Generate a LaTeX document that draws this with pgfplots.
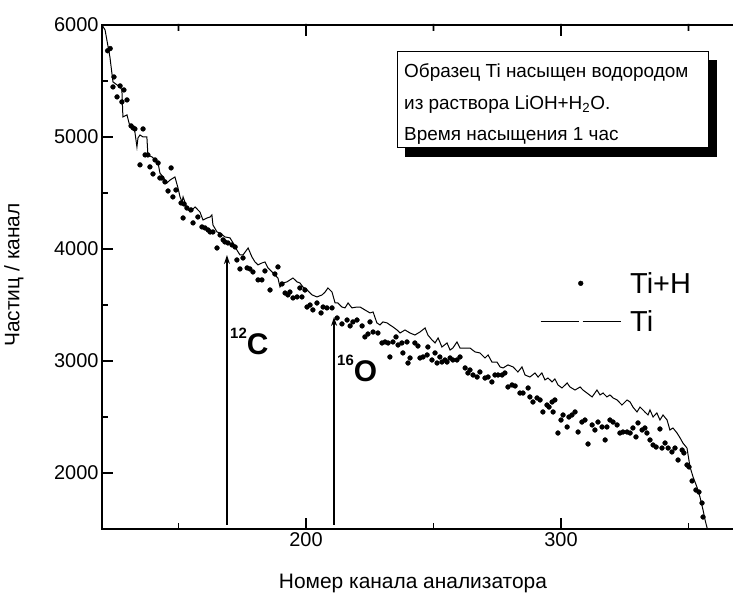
\documentclass[border=0pt]{standalone}
\usepackage{fontspec}
\setmainfont{Liberation Sans}
\usepackage{pgfplots}
\usepackage{pgfplotstable}
\pgfplotsset{compat=1.18}
\usetikzlibrary{arrows.meta}

\pgfplotsset{
  dotlegend/.style={legend image code/.code={\draw[##1] plot coordinates {(40bp,0bp)};}},
  linelegend/.style={legend image code/.code={\draw[##1] (0bp,0bp) -- (38bp,0bp) (42bp,0bp) -- (80bp,0bp);}},
}

% Ti+H (points)
\pgfplotstableread{
ch v
122.2 5770
123.2 5790
124.3 5447
124.7 5536
125.9 5358
127.1 5456
127.8 5313
128.6 5420
129.8 5331
131.4 5099
132.2 5081
132.9 5072
134.9 4751
136.1 5072
136.9 4840
138.0 4840
138.8 4733
140.0 4670
140.8 4795
142.0 4768
142.7 4634
143.5 4634
144.7 4599
145.9 4518
147.1 4724
147.8 4465
149.0 4527
151.0 4411
151.8 4277
152.2 4402
153.3 4366
154.9 4349
155.7 4233
157.6 4286
159.2 4197
160.4 4188
161.6 4170
162.4 4152
163.5 4152
165.1 4009
166.3 4125
167.5 4081
168.2 4063
169.4 4054
171.0 4036
172.2 4018
172.9 3902
174.1 3822
175.3 3920
176.9 3831
178.0 3822
179.2 3795
181.2 3724
182.7 3724
183.9 3804
185.9 3634
187.8 3777
189.0 3840
190.6 3688
191.8 3607
192.9 3590
193.7 3616
194.9 3563
196.5 3572
197.6 3652
198.4 3572
199.6 3634
200.4 3482
201.6 3500
202.7 3456
204.3 3518
205.9 3429
206.7 3482
208.2 3474
210.2 3474
212.2 3384
214.1 3331
216.1 3366
217.3 3313
218.4 3349
220.0 3366
222.0 3313
223.1 3215
224.3 3241
225.1 3349
226.3 3259
228.2 3250
229.8 3161
231.0 3170
232.2 3161
232.9 3036
234.1 3170
235.3 3215
236.1 3143
237.6 3161
238.0 3072
239.6 3170
240.0 2982
240.8 3027
242.7 3161
243.9 3134
244.7 3027
245.9 3036
247.5 3054
247.8 3125
249.4 3009
250.6 3072
251.4 2982
252.5 3036
253.3 2991
254.5 3009
255.3 2991
256.5 3027
257.6 3009
259.2 3009
260.4 3036
262.4 2938
263.5 2893
264.3 2920
265.5 2875
267.1 2857
268.2 2902
270.2 2848
271.4 2857
272.9 2813
274.1 2875
275.3 2875
276.9 2875
278.0 2893
279.2 2768
280.8 2786
282.0 2777
283.9 2714
285.1 2714
287.1 2759
287.8 2679
289.0 2634
290.6 2670
291.8 2652
292.9 2545
294.5 2607
295.3 2589
296.5 2634
296.9 2545
297.6 2652
298.8 2357
300.0 2473
300.8 2518
302.4 2411
303.1 2500
304.3 2518
305.5 2545
306.7 2366
308.2 2455
309.4 2473
310.6 2259
312.2 2429
313.3 2384
314.5 2455
316.1 2411
317.3 2295
318.0 2411
319.2 2473
320.4 2455
322.0 2429
323.1 2357
324.3 2366
325.9 2366
327.1 2357
328.2 2402
329.4 2322
330.2 2447
331.8 2384
332.9 2402
333.7 2357
334.9 2295
336.1 2250
337.3 2232
338.8 2393
339.6 2223
340.8 2268
342.0 2223
343.5 2188
344.7 2223
345.9 2116
347.5 2205
348.2 2179
349.4 2072
350.2 2054
351.4 1929
352.9 1848
354.1 1830
355.3 1732
355.7 1607
}\tihdata

% Ti (line)
\pgfplotstableread{
ch v
120.0 6000
121.2 5956
123.1 5715
124.3 5492
125.9 5465
127.1 5447
127.8 5420
128.2 5179
129.8 5197
131.0 5090
132.2 5081
132.9 5045
133.7 4911
134.1 4991
134.9 5018
136.1 5000
137.6 5000
138.0 4840
139.6 4822
140.8 4795
142.0 4768
142.7 4679
143.9 4643
145.5 4590
146.7 4616
148.6 4643
149.8 4545
150.6 4465
151.4 4420
151.8 4465
153.3 4366
154.5 4331
156.5 4375
158.4 4331
159.6 4259
161.2 4277
162.4 4286
163.1 4304
163.5 4215
165.1 4152
166.3 4143
168.2 4108
170.2 4099
171.4 4054
172.9 3991
174.1 3947
175.3 3947
177.3 4009
178.8 3929
180.0 3884
181.2 3858
182.7 3875
183.9 3884
185.1 3831
186.7 3795
187.8 3768
189.0 3741
189.8 3661
191.0 3697
192.5 3706
193.7 3724
194.9 3741
196.5 3706
197.6 3697
198.8 3661
200.4 3634
202.4 3590
204.3 3572
206.3 3590
207.5 3616
208.6 3652
210.2 3616
211.4 3518
212.5 3518
214.1 3482
215.3 3474
216.5 3518
218.0 3474
220.0 3482
221.2 3482
223.1 3456
225.1 3429
226.3 3438
227.8 3340
229.0 3322
230.2 3349
231.8 3340
232.9 3322
234.1 3304
235.7 3277
236.9 3250
238.8 3277
240.8 3250
242.7 3232
244.7 3259
246.7 3295
247.8 3232
249.4 3188
250.6 3161
251.8 3206
253.3 3125
255.3 3161
256.5 3098
257.6 3116
259.2 3170
260.4 3116
262.4 3116
264.3 3116
266.3 3081
268.2 3072
270.2 3027
271.4 3054
272.9 2991
274.9 2991
276.1 2947
277.3 2938
279.2 2965
281.2 2947
283.1 2902
284.7 2947
285.9 2875
287.8 2857
289.8 2893
291.0 2857
292.5 2893
293.7 2831
294.9 2848
296.5 2813
297.6 2840
298.8 2786
300.4 2759
302.4 2804
303.5 2768
305.5 2741
307.5 2768
308.6 2741
310.2 2714
312.2 2679
314.1 2741
315.3 2697
316.5 2714
318.0 2679
319.2 2697
320.4 2670
322.0 2652
323.9 2607
325.9 2652
327.1 2634
328.2 2589
329.8 2545
331.0 2589
332.9 2545
334.1 2518
334.9 2563
336.1 2500
337.6 2536
338.8 2473
340.0 2518
341.6 2473
342.7 2384
343.9 2402
345.5 2357
346.7 2313
347.8 2268
349.4 2223
350.6 2054
351.8 1964
353.3 1875
354.5 1786
355.7 1670
356.5 1580
357.3 1509
}\tidata

\begin{document}
\begin{tikzpicture}
\begin{axis}[
    scale only axis,
    width=634bp, height=504bp,
    xmin=120, xmax=368.63,
    ymin=1500, ymax=6000,
    axis line style={line width=2bp},
    tick align=inside,
    xtick pos=both, ytick pos=left,
    xtick={200,300}, minor xtick={150,250,350},
    ytick={2000,3000,4000,5000,6000}, minor ytick={2500,3500,4500,5500},
    major tick length=11bp, minor tick length=6bp,
    every tick/.style={black, line width=1.6bp},
    /pgf/number format/assume math mode=true,
    /pgf/number format/set thousands separator={},
    tick label style={font=\fontsize{20}{23}\selectfont},
    label style={font=\fontsize{21}{24}\selectfont},
    xlabel={Номер канала анализатора},
    ylabel={Частиц / канал},
    x label style={at={(axis description cs:0.4905,-0.109)}, anchor=center},
    y label style={at={(axis description cs:-0.1388,0.504)}, anchor=center},
    legend style={draw=none, fill=none, inner sep=0pt,
        font=\fontsize{29}{31}\selectfont,
        at={(axis description cs:0.6909,0.514)}, anchor=north west,
        row sep=12bp, column sep=7bp},
    legend cell align=left,
]
\addplot[only marks, mark=*, mark size=2.4bp, black, dotlegend]
    table[x=ch, y=v] {\tihdata};
\addlegendentry{Ti+H}
\addplot[black, line width=1bp, mark=none, linelegend]
    table[x=ch, y=v] {\tidata};
\addlegendentry{Ti}

\draw[line width=1.4bp, -{Stealth[length=9bp,width=6bp]}] (axis cs:169,1536) -- (axis cs:169,3946);
\draw[line width=1.4bp, -{Stealth[length=9bp,width=6bp]}] (axis cs:211,1536) -- (axis cs:211,3393);
\end{axis}

% annotations in picture pixels
\begin{scope}[shift={(current axis.south west)}]
\begin{scope}[x=1bp, y=-1bp, shift={(-102,-529)}]
  \fill[black] (405,60) rectangle (717,157);
  \draw[black, fill=white, line width=1bp] (397,52) rectangle (708,148);
  \begin{scope}[every node/.style={anchor=base west, inner sep=0pt, font=\fontsize{19}{21}\selectfont}]
    \node at (404,78) {Образец Ti насыщен водородом};
    \node at (404,109.5) {из раствора LiOH+H\textsubscript{2}O.};
    \node at (404,141) {Время насыщения 1 час};
  \end{scope}
  \node[anchor=base west, inner sep=0pt, font=\bfseries] at (230,355)
    {\fontsize{15}{15}\selectfont\raisebox{16bp}{12}\fontsize{30}{30}\selectfont C};
  \node[anchor=base west, inner sep=0pt, font=\bfseries] at (337,382)
    {\fontsize{15}{15}\selectfont\raisebox{16bp}{16}\fontsize{30}{30}\selectfont O};
  % top frame line and its ticks, as filled strips
  \fill[black] (101,24) rectangle (733,26);
  \fill[black] (305.2,24) rectangle (306.8,36) (560.2,24) rectangle (561.8,36)
    (177.7,24) rectangle (179.3,31) (432.7,24) rectangle (434.3,31)
    (687.7,24) rectangle (689.3,31);
  \pgfresetboundingbox
  \path (0,0) rectangle (733,599);
\end{scope}
\end{scope}
\end{tikzpicture}
\end{document}
